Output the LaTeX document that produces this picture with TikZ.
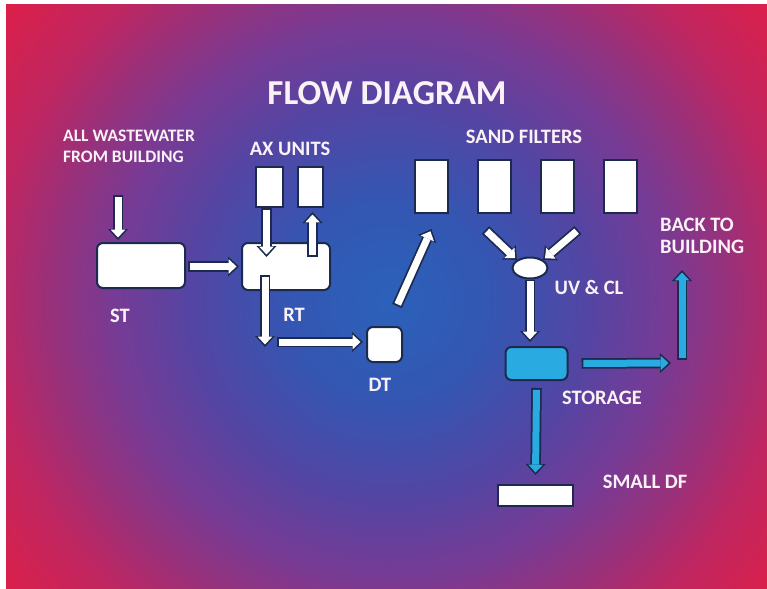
\documentclass[tikz,border=0pt]{standalone}
\usepackage{fontspec}
\setmainfont{Carlito}
\usetikzlibrary{arrows.meta,positioning,calc,shapes.geometric}
\definecolor{navy}{RGB}{27,42,78}
\definecolor{aqua}{RGB}{41,171,226}
\definecolor{chalk}{RGB}{250,242,247}
\pgfdeclareradialshading{glow}{\pgfpoint{0bp}{0bp}}{%
  rgb(0bp)=(.17,.38,.73);
  rgb(6.4bp)=(.20,.34,.70);
  rgb(12.8bp)=(.33,.27,.64);
  rgb(17.9bp)=(.47,.23,.58);
  rgb(21.8bp)=(.60,.19,.48);
  rgb(25.6bp)=(.75,.15,.38);
  rgb(31.4bp)=(.87,.12,.28);
  rgb(36bp)=(.90,.11,.26)}
\tikzset{
    lbl/.style={text=chalk, font=\fontsize{20.5}{22}\selectfont\bfseries, inner sep=0pt},
    tank/.style={draw=navy, line width=2pt, fill=white, rounded corners=6pt},
    unit/.style={draw=navy, line width=2pt, fill=white},
    filter/.style={minimum width=33pt, minimum height=53pt},
    pipe/.style={draw=navy, line width=10.5pt, -{Triangle[length=11pt,width=20pt,line width=0pt]},
        postaction={draw=#1, line width=7pt, shorten <=1.8pt, shorten >=2.5pt,
            -{Triangle[length=7.8pt,width=14.5pt,line width=0pt]}}},
    pipe/.default=white
}
\begin{document}
\begin{tikzpicture}[x=1pt, y=-1pt]
    % backdrop
    \useasboundingbox (0,0) rectangle (767,588);
    \fill[white] (0,0) rectangle (767,588);
    \begin{scope}
        \clip (6,5) rectangle (767,588);
        \shade[shading=glow] (0,-90) rectangle (780,690);
    \end{scope}

    % Title
    \node [lbl, font=\fontsize{35}{38}\selectfont\bfseries] (title) at (387,93) {FLOW DIAGRAM};

    % Tanks and units
    \node [tank, minimum width=88pt, minimum height=45pt] (st) at (141,265.5) {};
    \node [tank, minimum width=88pt, minimum height=47pt] (rt) at (286,266.5) {};
    \node [unit, minimum width=27pt, minimum height=40pt] (ax1) at (269.5,187) {};
    \node [unit, minimum width=25pt, minimum height=40pt] (ax2) at (310.5,187) {};
    \node [tank, minimum width=35pt, minimum height=35pt] (dt) at (384.5,344.5) {};

    % Sand filters
    \node [unit, filter] (sf1) at (431.5,186.5) {};
    \node [unit, filter, right=28pt of sf1] (sf2) {};
    \node [unit, filter, right=28pt of sf2] (sf3) {};
    \node [unit, filter, right=28pt of sf3] (sf4) {};

    % Disinfection, storage, drain field
    \node [ellipse, draw=navy, line width=2pt, fill=white, minimum width=35pt, minimum height=21pt] (uv) at (530,268) {};
    \node [tank, fill=aqua, minimum width=62pt, minimum height=33pt] (store) at (536.5,363.5) {};
    \node [unit, minimum width=75pt, minimum height=21pt] (df) at (535.5,495.5) {};

    % Labels
    \node [lbl, font=\fontsize{17.5}{21}\selectfont\bfseries, align=left, anchor=west] (srclbl) at (63,146.5) {ALL WASTEWATER\\FROM BUILDING};
    \node [lbl] (axlbl) at (290,149) {AX UNITS};
    \node [lbl] (stlbl) at (120,316) {ST};
    \node [lbl] (rtlbl) at (294,315) {RT};
    \node [lbl] (dtlbl) at (380,385) {DT};
    \node [lbl] (sflbl) at (524,137) {SAND FILTERS};
    \node [lbl] (uvlbl) at (589,287) {UV \& CL};
    \node [lbl, align=left, anchor=west] (backlbl) at (660,235.5) {BACK TO\\BUILDING};
    \node [lbl] (storelbl) at (602,398) {STORAGE};
    \node [lbl] (dflbl) at (645,482) {SMALL DF};

    % Free ends
    \coordinate (inflow) at (118,195);
    \coordinate (turn) at (265,342);
    \coordinate (corner) at (682,363);
    \coordinate (back) at (682,270);

    % Flow arrows
    \draw [pipe] (inflow) -- ($(inflow |- st.north)+(0,-2)$);
    \draw [pipe] ($(st.east)+(2,1)$) -- ($(st.east -| rt.west)+(-2,1)$);
    \draw [pipe] ($(ax1.south)+(-3,0)$) -- ($(ax1.south |- rt.north)+(-3,15)$);
    \draw [pipe] ($(ax2.south |- rt.north)+(2,15)$) -- ($(ax2.south)+(2,4)$);
    \draw [pipe] ($(turn |- rt.south)+(0,-16)$) -- ($(turn)+(0,5)$);
    \draw [pipe] ($(turn)+(12,0)$) -- ($(turn -| dt.west)+(-3,0)$);
    \draw [pipe] ($(dt.north east)+(-6,-20)$) -- ($(sf1.south)+(0,15)$);
    \draw [pipe] ($(sf2.south)+(-9,16)$) -- (uv.north west);
    \draw [pipe] ($(sf3.south east)+(3,16)$) -- (uv.north east);
    \draw [pipe] (uv.south) -- ($(uv.south |- store.north)+(0,-4)$);
    \draw [pipe=aqua] ($(store.east)+(13,0)$) -- ($(corner)+(-11,0)$);
    \draw [pipe=aqua] ($(corner)+(0,-3)$) -- (back);
    \draw [pipe=aqua] ($(store.south)+(0,7)$) -- ($(df.north)+(0,-9)$);
\end{tikzpicture}
\end{document}
